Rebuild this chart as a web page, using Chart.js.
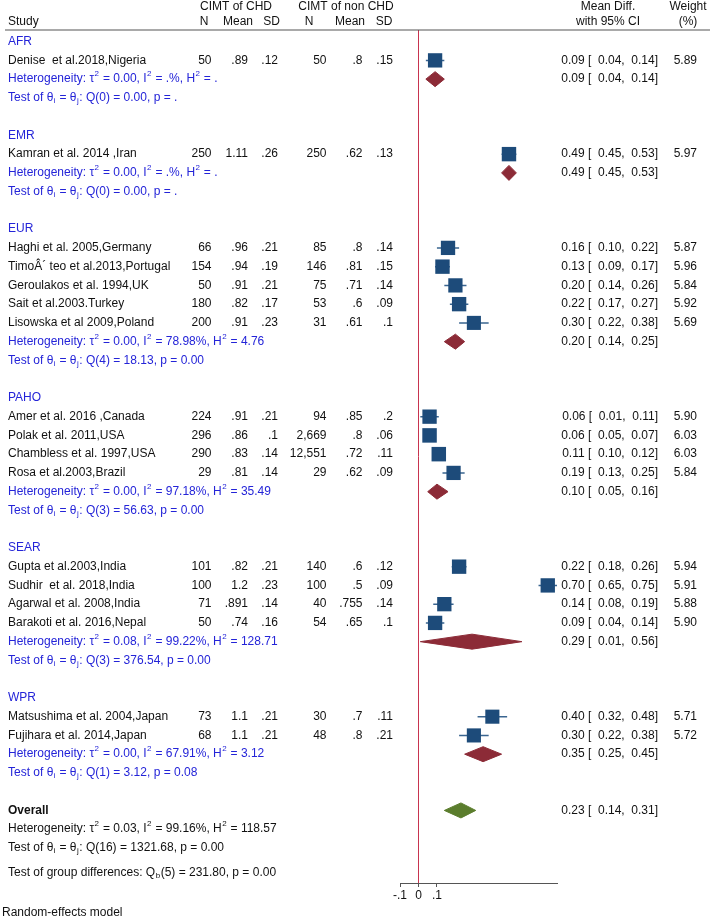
<!DOCTYPE html>
<html>
<head>
<meta charset="utf-8">
<script src="https://cdn.jsdelivr.net/npm/chart.js@4.4.0/dist/chart.umd.min.js"></script>
<style>
  html, body { margin: 0; padding: 0; background: #fff; }
  #forest { display: block; }
</style>
</head>
<body>
<canvas id="forest" width="714" height="919"></canvas>
<script>
// Subgroups (WHO regions)
const groups = ['AFR', 'EMR', 'EUR', 'PAHO', 'SEAR', 'WPR'];

// Studies and the subgroup each belongs to
const studies = [
  'Denise  et al.2018,Nigeria',
  'Kamran et al. 2014 ,Iran',
  'Haghi et al. 2005,Germany',
  'TimoÂ´ teo et al.2013,Portugal',
  'Geroulakos et al. 1994,UK',
  'Sait et al.2003.Turkey',
  'Lisowska et al 2009,Poland',
  'Amer et al. 2016 ,Canada',
  'Polak et al. 2011,USA',
  'Chambless et al. 1997,USA',
  'Rosa et al.2003,Brazil',
  'Gupta et al.2003,India',
  'Sudhir  et al. 2018,India',
  'Agarwal et al. 2008,India',
  'Barakoti et al. 2016,Nepal',
  'Matsushima et al. 2004,Japan',
  'Fujihara et al. 2014,Japan'
];
const studyGroup = [0, 1, 2, 2, 2, 2, 2, 3, 3, 3, 3, 4, 4, 4, 4, 5, 5];

// CIMT of CHD
const nChd    = ['50', '250', '66', '154', '50', '180', '200', '224', '296', '290', '29', '101', '100', '71', '50', '73', '68'];
const meanChd = ['.89', '1.11', '.96', '.94', '.91', '.82', '.91', '.91', '.86', '.83', '.81', '.82', '1.2', '.891', '.74', '1.1', '1.1'];
const sdChd   = ['.12', '.26', '.21', '.19', '.21', '.17', '.23', '.21', '.1', '.14', '.14', '.21', '.23', '.14', '.16', '.21', '.21'];
// CIMT of non CHD
const nNon    = ['50', '250', '85', '146', '75', '53', '31', '94', '2,669', '12,551', '29', '140', '100', '40', '54', '30', '48'];
const meanNon = ['.8', '.62', '.8', '.81', '.71', '.6', '.61', '.85', '.8', '.72', '.62', '.6', '.5', '.755', '.65', '.7', '.8'];
const sdNon   = ['.15', '.13', '.14', '.15', '.14', '.09', '.1', '.2', '.06', '.11', '.09', '.12', '.09', '.14', '.1', '.11', '.21'];

// Mean difference with 95% CI, weight (%)
const effect = [0.09, 0.49, 0.16, 0.13, 0.20, 0.22, 0.30, 0.06, 0.06, 0.11, 0.19, 0.22, 0.70, 0.14, 0.09, 0.40, 0.30];
const ciLow  = [0.04, 0.45, 0.10, 0.09, 0.14, 0.17, 0.22, 0.01, 0.05, 0.10, 0.13, 0.18, 0.65, 0.08, 0.04, 0.32, 0.22];
const ciHigh = [0.14, 0.53, 0.22, 0.17, 0.26, 0.27, 0.38, 0.11, 0.07, 0.12, 0.25, 0.26, 0.75, 0.19, 0.14, 0.48, 0.38];
const weight = [5.89, 5.97, 5.87, 5.96, 5.84, 5.92, 5.69, 5.90, 6.03, 6.03, 5.84, 5.94, 5.91, 5.88, 5.90, 5.71, 5.72];

// Subgroup pooled results
const groupEffect = [0.09, 0.49, 0.20, 0.10, 0.29, 0.35];
const groupLow    = [0.04, 0.45, 0.14, 0.05, 0.01, 0.25];
const groupHigh   = [0.14, 0.53, 0.25, 0.16, 0.56, 0.45];
const groupTau2   = ['0.00', '0.00', '0.00', '0.00', '0.08', '0.00'];
const groupI2     = ['.%', '.%', '78.98%', '97.18%', '99.22%', '67.91%'];
const groupH2     = ['.', '.', '4.76', '35.49', '128.71', '3.12'];
const groupQdf    = [0, 0, 4, 3, 3, 1];
const groupQ      = ['0.00', '0.00', '18.13', '56.63', '376.54', '3.12'];
const groupP      = ['.', '.', '0.00', '0.00', '0.00', '0.08'];

// Overall
const overallEffect = [0.23];
const overallLow = [0.14];
const overallHigh = [0.31];
const overallStats = { tau2: '0.03', i2: '99.16%', h2: '118.57', qdf: 16, q: '1321.68', p: '0.00' };
const groupDiff = { df: 5, q: '231.80', p: '0.00' };

// x axis ticks
const xTicks = [-0.1, 0, 0.1];
const xTickLabels = ['-.1', '0', '.1'];

// ---- row layout ----
const studyRow = [];
const groupLabelRow = [];
const groupHetRow = [];
const groupTestRow = [];
let r = 0;
groups.forEach((g, gi) => {
  groupLabelRow[gi] = r++;
  studies.forEach((s, si) => {
    if (studyGroup[si] === gi) studyRow[si] = r++;
  });
  groupHetRow[gi] = r++;
  groupTestRow[gi] = r++;
  r++; // blank line
});
const overallRow = r++;
const overallHetRow = r++;
const overallTestRow = r++;
const groupDiffRow = overallTestRow + 1.33;

const FONT = '"Liberation Sans", Arial, Helvetica, sans-serif';
const BLUE = '#2424d8';
const NAVY = '#1d4b7a';
const MAROON = '#8c2b37';
const GREEN = '#5b7d2d';

// ---- datasets ----
const ciData = [];
studies.forEach((s, i) => {
  ciData.push({ x: ciLow[i], y: studyRow[i] });
  ciData.push({ x: ciHigh[i], y: studyRow[i] });
  ciData.push({ x: null, y: null });
});

const squareData = studies.map((s, i) => ({ x: effect[i], y: studyRow[i] }));
// square side grows with sqrt(weight)
const squareRadius = weight.map(w => 5.9 * Math.sqrt(w) / Math.SQRT2);

function diamond(est, lo, hi, row, color) {
  const h = 0.4;
  return {
    type: 'scatter',
    data: [
      { x: lo, y: row }, { x: est, y: row - h }, { x: hi, y: row },
      { x: est, y: row + h }, { x: lo, y: row }
    ],
    showLine: true,
    fill: 'shape',
    backgroundColor: color,
    borderColor: color,
    borderWidth: 1,
    pointRadius: 0,
    order: 2
  };
}

const datasets = [
  {
    type: 'scatter',
    data: ciData,
    showLine: true,
    spanGaps: false,
    borderColor: '#3a6590',
    borderWidth: 1.5,
    pointRadius: 0,
    order: 3
  },
  {
    type: 'scatter',
    data: squareData,
    pointStyle: 'rect',
    pointRadius: squareRadius,
    backgroundColor: NAVY,
    borderWidth: 0,
    order: 1
  }
];
groups.forEach((g, gi) => {
  datasets.push(diamond(groupEffect[gi], groupLow[gi], groupHigh[gi], groupHetRow[gi], MAROON));
});
datasets.push(diamond(overallEffect[0], overallLow[0], overallHigh[0], overallRow, GREEN));

// ---- text helpers ----
function drawRich(ctx, text, x, y, color, bold) {
  const base = (bold ? 'bold ' : '') + '12px ' + FONT;
  const small = '8px ' + FONT;
  const parts = text.split(/(\{[\^_][^}]*\})/);
  let cx = x;
  ctx.fillStyle = color;
  ctx.textAlign = 'left';
  ctx.textBaseline = 'middle';
  parts.forEach(p => {
    if (!p) return;
    if (p[0] === '{') {
      const t = p.slice(2, -1);
      ctx.font = small;
      const dy = p[1] === '^' ? -5 : 3;
      ctx.fillText(t, cx + 0.5, y + dy);
      cx += ctx.measureText(t).width + 1;
    } else {
      ctx.font = base;
      ctx.fillText(p, cx, y);
      cx += ctx.measureText(p).width;
    }
  });
}

function txt(ctx, text, x, y, align, color, bold) {
  ctx.font = (bold ? 'bold ' : '') + '12px ' + FONT;
  ctx.fillStyle = color || '#111';
  ctx.textAlign = align || 'left';
  ctx.textBaseline = 'middle';
  ctx.fillText(text, x, y);
}

const f2 = v => v.toFixed(2);
const ciText = (e, lo, hi) => `${f2(e)} [  ${f2(lo)},  ${f2(hi)}]`;
const hetText = (t, i, h) => `Heterogeneity: τ{^2} = ${t}, I{^2} = ${i}, H{^2} = ${h}`;
const testText = (df, q, p) => `Test of θ{_i} = θ{_j}: Q(${df}) = ${q}, p = ${p}`;

// column anchors (right edges / centres, px)
const COL = {
  study: 8, nChd: 211.5, meanChd: 248, sdChd: 278,
  nNon: 326.5, meanNon: 362.5, sdNon: 393, ci: 658, weight: 697
};

const zeroLine = {
  id: 'zeroLine',
  beforeDatasetsDraw(chart) {
    const { ctx, chartArea, scales } = chart;
    const x0 = Math.round(scales.x.getPixelForValue(0)) + 0.5;
    ctx.save();
    ctx.strokeStyle = '#c8344f';
    ctx.lineWidth = 1;
    ctx.beginPath();
    ctx.moveTo(x0, chartArea.top);
    ctx.lineTo(x0, chartArea.bottom);
    ctx.stroke();
    ctx.restore();
  }
};

const tableText = {
  id: 'tableText',
  afterDraw(chart) {
    const { ctx, chartArea, scales } = chart;
    const Y = v => scales.y.getPixelForValue(v);
    ctx.save();

    // header
    txt(ctx, 'CIMT of CHD', 236, 7, 'center');
    txt(ctx, 'CIMT of non CHD', 346, 7, 'center');
    txt(ctx, 'Mean Diff.', 608, 7, 'center');
    txt(ctx, 'Weight', 688, 7, 'center');
    txt(ctx, 'Study', COL.study, 22);
    txt(ctx, 'N', 204, 22, 'center');
    txt(ctx, 'Mean', 238, 22, 'center');
    txt(ctx, 'SD', 271.5, 22, 'center');
    txt(ctx, 'N', 309, 22, 'center');
    txt(ctx, 'Mean', 350, 22, 'center');
    txt(ctx, 'SD', 384, 22, 'center');
    txt(ctx, 'with 95% CI', 608, 22, 'center');
    txt(ctx, '(%)', 688, 22, 'center');

    ctx.strokeStyle = '#555';
    ctx.lineWidth = 1.2;
    ctx.beginPath();
    ctx.moveTo(5, chartArea.top);
    ctx.lineTo(710, chartArea.top);
    ctx.stroke();

    // groups
    groups.forEach((g, gi) => {
      txt(ctx, g, COL.study, Y(groupLabelRow[gi]), 'left', BLUE);
      drawRich(ctx, hetText(groupTau2[gi], groupI2[gi], groupH2[gi]), COL.study, Y(groupHetRow[gi]), BLUE);
      drawRich(ctx, testText(groupQdf[gi], groupQ[gi], groupP[gi]), COL.study, Y(groupTestRow[gi]), BLUE);
      txt(ctx, ciText(groupEffect[gi], groupLow[gi], groupHigh[gi]), COL.ci, Y(groupHetRow[gi]), 'right');
    });

    // studies
    studies.forEach((s, i) => {
      const y = Y(studyRow[i]);
      txt(ctx, s, COL.study, y);
      txt(ctx, nChd[i], COL.nChd, y, 'right');
      txt(ctx, meanChd[i], COL.meanChd, y, 'right');
      txt(ctx, sdChd[i], COL.sdChd, y, 'right');
      txt(ctx, nNon[i], COL.nNon, y, 'right');
      txt(ctx, meanNon[i], COL.meanNon, y, 'right');
      txt(ctx, sdNon[i], COL.sdNon, y, 'right');
      txt(ctx, ciText(effect[i], ciLow[i], ciHigh[i]), COL.ci, y, 'right');
      txt(ctx, weight[i].toFixed(2), COL.weight, y, 'right');
    });

    // overall
    txt(ctx, 'Overall', COL.study, Y(overallRow), 'left', '#111', true);
    txt(ctx, ciText(overallEffect[0], overallLow[0], overallHigh[0]), COL.ci, Y(overallRow), 'right');
    drawRich(ctx, hetText(overallStats.tau2, overallStats.i2, overallStats.h2), COL.study, Y(overallHetRow), '#111');
    drawRich(ctx, testText(overallStats.qdf, overallStats.q, overallStats.p), COL.study, Y(overallTestRow), '#111');
    drawRich(ctx, `Test of group differences: Q{_b}(${groupDiff.df}) = ${groupDiff.q}, p = ${groupDiff.p}`, COL.study, Y(groupDiffRow), '#111');

    txt(ctx, 'Random-effects model', 2, 913);
    ctx.restore();
  }
};

new Chart(document.getElementById('forest').getContext('2d'), {
  type: 'scatter',
  data: { datasets },
  options: {
    responsive: false,
    animation: false,
    events: [],
    layout: { padding: { left: 400, right: 157, top: 30, bottom: 0 } },
    plugins: { legend: { display: false }, tooltip: { enabled: false } },
    scales: {
      x: {
        type: 'linear',
        min: -0.1,
        max: 0.75,
        afterBuildTicks: s => { s.ticks = xTicks.map(v => ({ value: v })); },
        afterFit: s => { s.height = 36; },
        ticks: {
          callback: (v, i) => xTickLabels[i],
          font: { family: FONT, size: 12 },
          color: '#111',
          padding: 1,
          maxRotation: 0,
          autoSkip: false
        },
        grid: { drawOnChartArea: false, tickLength: 4, color: '#555' },
        border: { color: '#555', width: 1 }
      },
      y: {
        type: 'linear',
        display: false,
        reverse: true,
        min: -0.62,
        max: 44.87
      }
    }
  },
  plugins: [zeroLine, tableText]
});
</script>
</body>
</html>
